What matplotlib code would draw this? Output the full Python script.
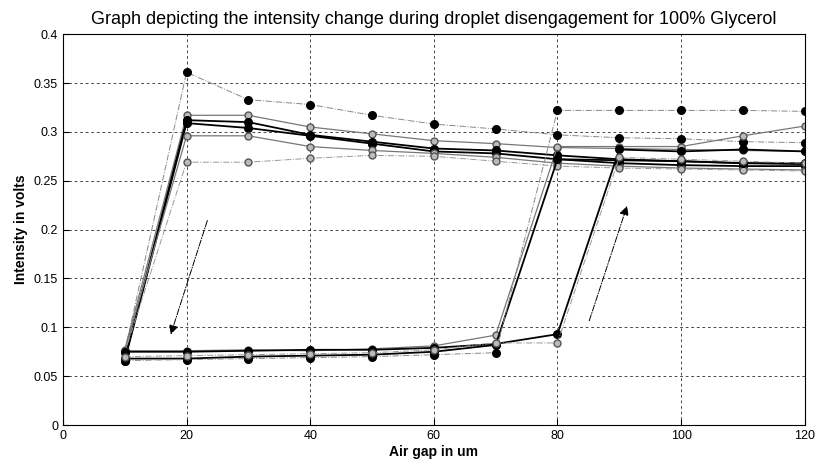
import numpy as np
import matplotlib
matplotlib.use("Agg")
import matplotlib.pyplot as plt

plt.rcParams['font.family'] = ['Liberation Sans', 'DejaVu Sans']

# air gap (um)
gap = [10, 20, 30, 40, 50, 60, 70, 80, 90, 100, 110, 120]

# runs that jump at 20 um
run1 = [0.075, 0.361, 0.333, 0.328, 0.317, 0.308, 0.303, 0.297, 0.294, 0.293, 0.290, 0.289]
run2 = [0.077, 0.317, 0.317, 0.305, 0.298, 0.291, 0.288, 0.284, 0.283, 0.282, 0.281, 0.280]
run3 = [0.068, 0.312, 0.310, 0.297, 0.290, 0.283, 0.281, 0.276, 0.272, 0.270, 0.268, 0.267]
run4 = [0.066, 0.309, 0.304, 0.296, 0.288, 0.280, 0.278, 0.272, 0.268, 0.266, 0.265, 0.265]
run5 = [0.076, 0.296, 0.296, 0.285, 0.281, 0.278, 0.274, 0.268, 0.265, 0.263, 0.262, 0.261]
run6 = [0.074, 0.269, 0.269, 0.273, 0.276, 0.275, 0.270, 0.265, 0.263, 0.262, 0.261, 0.260]
# runs that jump at 80 um
run7 = [0.076, 0.076, 0.077, 0.076, 0.078, 0.081, 0.092, 0.285, 0.285, 0.285, 0.296, 0.306]
run8 = [0.068, 0.068, 0.070, 0.071, 0.072, 0.075, 0.082, 0.272, 0.271, 0.270, 0.268, 0.268]
run9 = [0.066, 0.067, 0.068, 0.069, 0.070, 0.072, 0.074, 0.322, 0.322, 0.322, 0.322, 0.321]
# runs that jump at 90 um
run10 = [0.075, 0.075, 0.076, 0.077, 0.077, 0.079, 0.083, 0.093, 0.282, 0.280, 0.282, 0.280]
run11 = [0.070, 0.071, 0.072, 0.073, 0.074, 0.077, 0.084, 0.084, 0.274, 0.272, 0.270, 0.268]

fig = plt.figure(figsize=(8.17, 4.62), dpi=100)
ax = fig.add_axes([0.077, 0.080, 0.908, 0.846])

blk = dict(color='black', lw=1.3, marker='o', ms=5.5, mfc='black', mec='black')
blk_thin = dict(color='#888888', lw=0.7, ls='-.', marker='o', ms=5.5, mfc='black', mec='black')
gry = dict(color='#777777', lw=0.9, marker='o', ms=5, mfc='#bbbbbb', mec='#555555')
gry_thin = dict(color='#999999', lw=0.7, ls='-.', marker='o', ms=5, mfc='#bbbbbb', mec='#555555')

ax.plot(gap, run1, **blk_thin)
ax.plot(gap, run2, **gry)
ax.plot(gap, run3, **blk)
ax.plot(gap, run4, **blk)
ax.plot(gap, run5, **gry)
ax.plot(gap, run6, **gry_thin)
ax.plot(gap, run7, **gry)
ax.plot(gap, run8, **blk)
ax.plot(gap, run9, **blk_thin)
ax.plot(gap, run10, **blk)
ax.plot(gap, run11, **gry_thin)

# direction arrows
ax.annotate('', xy=(17.3, 0.090), xytext=(23.5, 0.212),
            arrowprops=dict(arrowstyle='-|>', color='black', lw=0.7, ls='-.',
                            mutation_scale=14))
ax.annotate('', xy=(91.4, 0.227), xytext=(85.0, 0.104),
            arrowprops=dict(arrowstyle='-|>', color='black', lw=0.7, ls='-.',
                            mutation_scale=14))

ax.set_xlim(0, 120)
ax.set_ylim(0, 0.4)
ax.set_xticks(np.arange(0, 121, 20))
ax.set_yticks(np.arange(0, 0.41, 0.05))
ax.set_yticklabels(['0', '0.05', '0.1', '0.15', '0.2', '0.25', '0.3', '0.35', '0.4'])
ax.tick_params(direction='in', labelsize=9, length=4)
ax.grid(True, color='black', ls=(0, (4, 4)), lw=0.5)

ax.set_title('Graph depicting the intensity change during droplet disengagement for 100% Glycerol',
             fontsize=13, pad=7)
ax.set_xlabel('Air gap in um', fontsize=10, fontweight='bold', labelpad=2)
ax.set_ylabel('Intensity in volts', fontsize=10, fontweight='bold', labelpad=4)

fig.savefig('out.png', dpi=100)
